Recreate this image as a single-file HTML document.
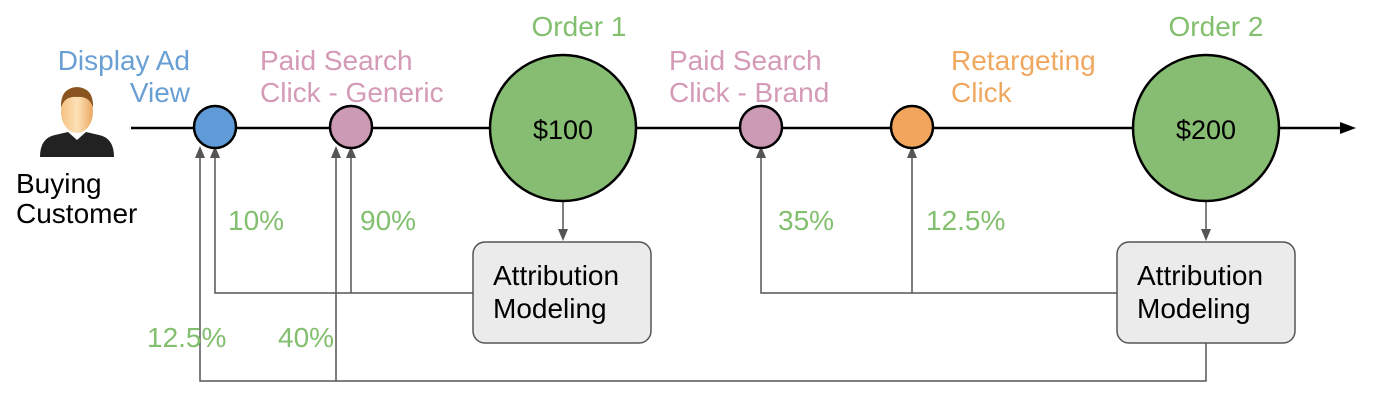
<!DOCTYPE html>
<html><head><meta charset="utf-8"><style>
body{margin:0;background:#fff;}
svg{display:block;font-family:"Liberation Sans",sans-serif;}
</style></head><body>
<svg width="1379" height="406" viewBox="0 0 1379 406">
<defs>
<linearGradient id="sk" x1="0" x2="1"><stop offset="0" stop-color="#f5c080"/><stop offset="0.5" stop-color="#fde2b8"/><stop offset="1" stop-color="#eaa860"/></linearGradient>
</defs>
<!-- person -->
<path d="M40,157 Q40,138 55,135 L68,132 L77,140 L86,132 L99,135 Q114,138 114,157 Z" fill="#222"/>
<ellipse cx="77" cy="112" rx="16" ry="21" fill="url(#sk)"/>
<path d="M61,108 Q60,88 77,87 Q94,88 93,108 Q90,96 77,97 Q64,96 61,108 Z" fill="#8a5420"/>
<text x="16" y="193" font-size="28" fill="#000">Buying</text>
<text x="16" y="223" font-size="28" fill="#000">Customer</text>
<!-- main line -->
<line x1="131" y1="128" x2="1342" y2="128" stroke="#000" stroke-width="2.5"/>
<path d="M1340,122 L1356,128 L1340,134 Z" fill="#000"/>
<!-- connectors -->
<g stroke="#555" stroke-width="1.5" fill="none">
<path d="M473,293 H215 V156"/>
<path d="M351,293 V156"/>
<path d="M1206,343 V381 H200 V156"/>
<path d="M336,381 V156"/>
<path d="M1117,293 H761 V156"/>
<path d="M912,293 V156"/>
<path d="M563,201 V232"/>
<path d="M1206,201 V232"/>
</g>
<g fill="#555">
<path d="M210,158 L215,146 L220,158 Z"/>
<path d="M195,158 L200,146 L205,158 Z"/>
<path d="M346,158 L351,146 L356,158 Z"/>
<path d="M331,158 L336,146 L341,158 Z"/>
<path d="M756,158 L761,146 L766,158 Z"/>
<path d="M907,158 L912,146 L917,158 Z"/>
<path d="M558,229 L563,241 L568,229 Z"/>
<path d="M1201,229 L1206,241 L1211,229 Z"/>
</g>
<!-- circles -->
<g stroke="#000" stroke-width="2.5">
<circle cx="215" cy="127" r="21" fill="#5f9bd6"/>
<circle cx="351" cy="127" r="21" fill="#cc9ab5"/>
<circle cx="563" cy="128" r="73" fill="#87bd72"/>
<circle cx="761" cy="127" r="21" fill="#cc9ab5"/>
<circle cx="912" cy="127" r="21" fill="#f2a55d"/>
<circle cx="1206" cy="128" r="73" fill="#87bd72"/>
</g>
<text x="563" y="139" font-size="27" text-anchor="middle" fill="#000">$100</text>
<text x="1206" y="139" font-size="27" text-anchor="middle" fill="#000">$200</text>
<!-- boxes -->
<rect x="473" y="242" width="178" height="101" rx="12" fill="#ebebeb" stroke="#555" stroke-width="1.5"/>
<text x="493" y="285" font-size="28" fill="#000">Attribution</text>
<text x="493" y="318" font-size="28" fill="#000">Modeling</text>
<rect x="1117" y="242" width="178" height="101" rx="12" fill="#ebebeb" stroke="#555" stroke-width="1.5"/>
<text x="1137" y="285" font-size="28" fill="#000">Attribution</text>
<text x="1137" y="318" font-size="28" fill="#000">Modeling</text>
<!-- labels -->
<g font-size="28">
<text x="190" y="70" text-anchor="end" fill="#6a9fd4">Display Ad</text>
<text x="190" y="102" text-anchor="end" fill="#6a9fd4">View</text>
<text x="260" y="70" fill="#d49ab6">Paid Search</text>
<text x="260" y="102" fill="#d49ab6">Click - Generic</text>
<text x="579" y="36" text-anchor="middle" fill="#82bf6e">Order 1</text>
<text x="669" y="70" fill="#d49ab6">Paid Search</text>
<text x="669" y="102" fill="#d49ab6">Click - Brand</text>
<text x="951" y="70" fill="#f0a860">Retargeting</text>
<text x="951" y="102" fill="#f0a860">Click</text>
<text x="1216" y="36" text-anchor="middle" fill="#82bf6e">Order 2</text>
<text x="228" y="230" fill="#82bf6e">10%</text>
<text x="360" y="230" fill="#82bf6e">90%</text>
<text x="778" y="230" fill="#82bf6e">35%</text>
<text x="926" y="230" fill="#82bf6e">12.5%</text>
<text x="147" y="347" fill="#82bf6e">12.5%</text>
<text x="278" y="347" fill="#82bf6e">40%</text>
</g>
</svg>
</body></html>
